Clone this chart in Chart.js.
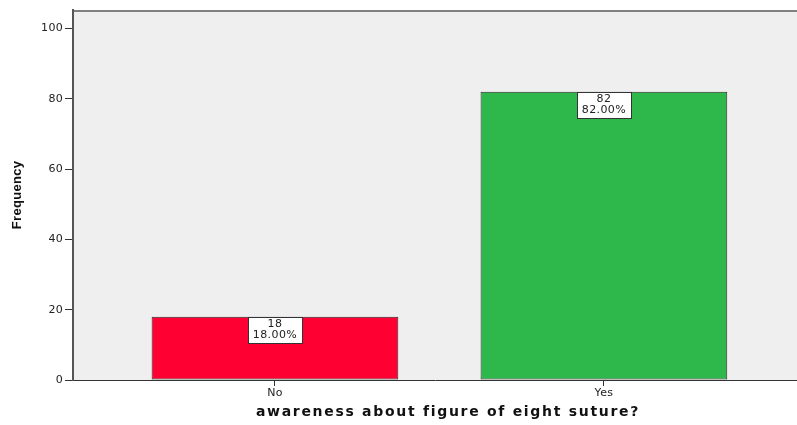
<!DOCTYPE html>
<html>
<head>
<meta charset="utf-8">
<script src="https://cdn.jsdelivr.net/npm/chart.js@4/dist/chart.umd.min.js"></script>
<style>
  html, body { margin: 0; padding: 0; background: #ffffff; }
  #wrap { width: 797px; height: 425px; position: relative; }
</style>
</head>
<body>
<div id="wrap"><canvas id="freqChart"></canvas></div>
<script>
// Answers and counts
const categories = ['No', 'Yes'];
const counts = [18, 82];
const barColors = ['#ff0033', '#2eb84b'];
const yTicks = [0, 20, 40, 60, 80, 100];
const xTitle = 'awareness about figure of eight suture?';

const total = counts.reduce((a, b) => a + b, 0);

// Plot background + top frame line
const plotFrame = {
  id: 'plotFrame',
  beforeDraw(chart) {
    const { ctx, chartArea: a } = chart;
    ctx.letterSpacing = '0.3px';
    ctx.save();
    ctx.fillStyle = '#efefef';
    ctx.fillRect(a.left, a.top, a.right - a.left, a.bottom - a.top);
    ctx.strokeStyle = '#808080';
    ctx.lineWidth = 2;
    ctx.beginPath();
    ctx.moveTo(a.left, a.top + 1);
    ctx.lineTo(a.right, a.top + 1);
    ctx.stroke();
    ctx.restore();
  }
};

// Count / percent boxes hanging from the top of each bar, plus the wide x title
const valueBoxes = {
  id: 'valueBoxes',
  afterDraw(chart) {
    const { ctx } = chart;
    const meta = chart.getDatasetMeta(0);
    ctx.save();
    ctx.letterSpacing = '0.4px';
    ctx.font = '11px "DejaVu Sans", sans-serif';
    ctx.textAlign = 'center';
    ctx.textBaseline = 'middle';
    meta.data.forEach((bar, i) => {
      const line1 = String(counts[i]);
      const line2 = (counts[i] / total * 100).toFixed(2) + '%';
      const w = 54, h = 26;
      const x = Math.round(bar.x - w / 2) + 0.5;
      const y = Math.round(bar.y) + 0.5;
      ctx.fillStyle = '#ffffff';
      ctx.fillRect(x, y, w, h);
      ctx.strokeStyle = '#333333';
      ctx.lineWidth = 1;
      ctx.strokeRect(x, y, w, h);
      ctx.fillStyle = '#222222';
      ctx.fillText(line1, bar.x, y + 7);
      ctx.fillText(line2, bar.x, y + 18);
    });

    ctx.letterSpacing = '1.7px';
    ctx.font = 'bold 14px "DejaVu Sans", sans-serif';
    ctx.fillStyle = '#111111';
    ctx.fillText(xTitle, 448, 412);
    ctx.restore();
  }
};

new Chart(document.getElementById('freqChart'), {
  type: 'bar',
  data: {
    datasets: [{
      label: 'Frequency',
      data: counts.map((v, i) => ({ x: i + 1, y: v })),
      backgroundColor: barColors,
      borderColor: '#2a2a2a',
      borderWidth: 1,
      borderSkipped: false,
      barPercentage: 0.75,
      categoryPercentage: 1
    }]
  },
  options: {
    responsive: true,
    maintainAspectRatio: false,
    animation: false,
    layout: { padding: { top: 10, right: 0, left: 0, bottom: 0 } },
    plugins: {
      legend: { display: false },
      tooltip: { enabled: false }
    },
    scales: {
      x: {
        type: 'linear',
        offset: false,
        min: 0.386,
        max: 2.587,
        afterBuildTicks(scale) {
          scale.ticks = categories.map((c, i) => ({ value: i + 1 }));
        },
        afterFit(scale) { scale.height = 45; },
        ticks: {
          callback: (v) => categories[Math.round(v) - 1] || '',
          color: '#222222',
          font: { family: '"DejaVu Sans", sans-serif', size: 11 },
          padding: 1,
          maxRotation: 0
        },
        grid: { display: true, offset: false, drawOnChartArea: false, drawTicks: true, tickLength: 6, color: '#333333' },
        border: { display: true, color: '#333333', width: 1 },
        title: { display: false }
      },
      y: {
        min: 0,
        max: 105.3,
        afterBuildTicks(scale) {
          scale.ticks = yTicks.map(v => ({ value: v }));
        },
        afterFit(scale) { scale.width = 73; },
        ticks: {
          color: '#222222',
          font: { family: '"DejaVu Sans", sans-serif', size: 11 },
          padding: 2
        },
        grid: { display: true, drawOnChartArea: false, drawTicks: true, tickLength: 8, color: '#333333' },
        border: { display: true, color: '#555555', width: 2 },
        title: {
          display: true,
          text: 'Frequency',
          color: '#111111',
          font: { family: '"Liberation Sans", Arial, sans-serif', size: 13, weight: 'bold' },
          padding: { top: 10, bottom: 0 }
        }
      }
    }
  },
  plugins: [plotFrame, valueBoxes]
});
</script>
</body>
</html>
